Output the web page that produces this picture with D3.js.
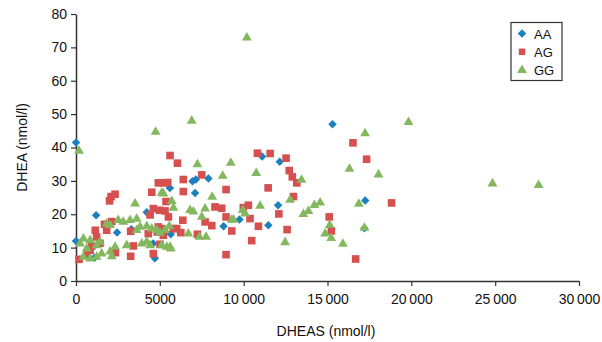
<!DOCTYPE html>
<html>
<head>
<meta charset="utf-8">
<script src="https://cdn.jsdelivr.net/npm/d3@7"></script>
<style>
  body { margin: 0; background: #fff; }
  svg { display: block; font-family: "Liberation Sans", Arial, sans-serif; }
</style>
</head>
<body>
<div id="chart"></div>
<script>
// [DHEAS, DHEA] pairs
const aaPoints = [
  [0, 41.5], [0, 12], [1100, 7], [1200, 19.7], [2450, 14.5], [4220, 20.6], [4700, 6.8],
  [4600, 11.2], [5600, 27.9], [5650, 14], [6950, 29.9], [7150, 30.4], [7100, 26.4],
  [7900, 30.7], [8800, 16.4], [9750, 18.4], [11100, 37.3], [12150, 35.7], [12050, 22.7],
  [11470, 16.7], [15300, 47], [17250, 24.1], [17200, 15.8], [3300, 15.5]
];

const agPoints = [
  [180, 6.5], [840, 9.2], [940, 10.5], [1150, 15.2], [1230, 13.2], [1430, 11.3], [680, 8],
  [2000, 24], [2090, 25.3], [2330, 26], [1830, 15.2], [2130, 17.8], [1700, 17], [2350, 8.5],
  [3260, 14.9], [3260, 7.4], [3420, 10.5], [4520, 26.6], [4420, 19.8], [4610, 21.7],
  [4310, 14.2], [4610, 8.2], [4910, 29.4], [5210, 29.4], [5470, 29.5], [4970, 21.2],
  [5310, 21], [4910, 16.2], [5210, 13.7], [5010, 11], [5510, 19.2], [5370, 23.8],
  [5610, 37.6], [6050, 35.3], [6400, 30.4], [6400, 26.8], [6370, 18.2], [6010, 15.7],
  [7240, 14], [7500, 31.8], [8950, 27.4], [8290, 22.2], [8690, 21.8], [8950, 19.2],
  [8100, 16.6], [9290, 15], [9980, 22], [10280, 22.7], [10380, 18.7], [10480, 12.1],
  [10880, 16.4], [8950, 7.9], [10820, 38.3], [11580, 38.2], [12530, 36.8], [12720, 33.1],
  [12900, 31.2], [13170, 29.4], [12970, 25.3], [11460, 27.9], [12100, 20.1], [12590, 15.4],
  [15100, 19.2], [15230, 15], [16520, 41.4], [17330, 36.5], [18820, 23.4], [16680, 6.6],
  [5110, 15.7], [6250, 14.5], [7700, 17.7], [4850, 14.7], [5800, 15.7]
];

const ggPoints = [
  [180, 39], [4750, 44.7], [6900, 48], [10190, 72.9], [17240, 44.2], [19830, 47.6],
  [24840, 29.2], [27590, 28.7], [16310, 33.6], [18040, 31.9], [16870, 23.1], [17200, 15.9],
  [15920, 11.1], [10980, 22.5], [12770, 24.3], [13560, 20], [13860, 20.9], [14220, 22.7],
  [14560, 23.5], [15130, 16.7], [14860, 14.2], [15220, 12.8], [12470, 11.6], [10750, 32.3],
  [13450, 30.3], [9230, 35.4], [8750, 31.5], [7240, 34.9], [8120, 25.2], [5110, 26.4],
  [5710, 23.9], [5810, 21.9], [6800, 21.2], [7000, 20.8], [7700, 21.7], [7500, 19.2],
  [9290, 18.3], [9950, 21.2], [6700, 14.2], [7360, 13.2], [7760, 13.2], [5610, 10.2],
  [5110, 10.7], [3520, 23.2], [2520, 18.2], [3220, 18.2], [3620, 18.6], [2820, 17.7],
  [2030, 16.7], [1830, 17.2], [4220, 16.4], [3820, 16.2], [4520, 15.7], [4820, 15.2],
  [5210, 26.2], [5570, 16.4], [5010, 14.4], [440, 12.7], [240, 11.2], [640, 9.7],
  [840, 12.2], [1230, 10.7], [1430, 11.7], [440, 7.2], [840, 6.7], [1230, 7.2],
  [1530, 8.2], [2130, 7.4], [2330, 10.2], [2030, 8.8], [3020, 10.7], [3920, 11.2],
  [4220, 11.7], [4420, 10.7], [5410, 10.2], [5650, 9.7], [5310, 15.2], [3620, 15.2],
  [9390, 18.4], [10080, 20.2]
];

const xTicks = [0, 5000, 10000, 15000, 20000, 25000, 30000];
const yTicks = [0, 10, 20, 30, 40, 50, 60, 70, 80];
const seriesNames = ["AA", "AG", "GG"];

const width = 602, height = 342;
const margin = { top: 14, right: 23, bottom: 61, left: 76 };

const svg = d3.select("#chart").append("svg")
  .attr("width", width)
  .attr("height", height);

const x = d3.scaleLinear().domain([0, 30000]).range([margin.left, width - margin.right]);
const y = d3.scaleLinear().domain([0, 80]).range([height - margin.bottom, margin.top]);

const fmtX = d => d >= 10000 ? d3.format("d")(d).replace(/(\d+)(\d{3})$/, "$1\u2009$2") : String(d);

const xAxis = svg.append("g")
  .attr("transform", `translate(0,${y(0)})`)
  .call(d3.axisBottom(x).tickValues(xTicks).tickFormat(fmtX).tickSize(5).tickSizeOuter(0));

const yAxis = svg.append("g")
  .attr("transform", `translate(${x(0)},0)`)
  .call(d3.axisLeft(y).tickValues(yTicks).tickSize(5).tickSizeOuter(0));

[xAxis, yAxis].forEach(g => {
  g.select(".domain").attr("stroke", "#333").attr("stroke-width", 1.5);
  g.selectAll(".tick line").attr("stroke", "#333").attr("stroke-width", 1.2);
  g.selectAll(".tick text").attr("fill", "#111").style("font-size", "14px")
    .style("font-family", "'Liberation Sans', Arial, sans-serif");
});
xAxis.selectAll(".tick text").attr("dy", "1.1em");
yAxis.selectAll(".tick text").attr("x", -9);

svg.append("text")
  .attr("x", 326).attr("y", 336)
  .attr("text-anchor", "middle")
  .style("font-size", "14px").attr("fill", "#111")
  .text("DHEAS (nmol/l)");

svg.append("text")
  .attr("transform", `translate(27,${(y(0) + y(80)) / 2}) rotate(-90)`)
  .attr("text-anchor", "middle")
  .style("font-size", "14px").attr("fill", "#111")
  .text("DHEA (nmol/l)");

const colors = { AA: "#1b80be", AG: "#d6504f", GG: "#84b85f" };
const symbols = { AA: d3.symbolDiamond2, AG: d3.symbolSquare, GG: d3.symbolTriangle };
const sizes = { AA: 46, AG: 58, GG: 42 };

function shape(name) {
  return d3.symbol().type(symbols[name]).size(sizes[name])();
}

const series = [["AA", aaPoints], ["AG", agPoints], ["GG", ggPoints]];

series.forEach(([name, pts]) => {
  svg.append("g")
    .selectAll("path")
    .data(pts)
    .enter().append("path")
    .attr("d", shape(name))
    .attr("transform", d => `translate(${x(d[0])},${y(d[1])})`)
    .attr("fill", colors[name]);
});

// legend
const legend = svg.append("g").attr("transform", "translate(511,22.5)");
legend.append("rect")
  .attr("width", 51).attr("height", 58)
  .attr("fill", "#fff").attr("stroke", "#333").attr("stroke-width", 1.2);

seriesNames.forEach((name, i) => {
  const row = legend.append("g").attr("transform", `translate(11,${11 + i * 18.3})`);
  row.append("path").attr("d", shape(name)).attr("fill", colors[name])
    .attr("transform", name === "AG" ? "scale(0.85)" : null);
  row.append("text").attr("x", 12).attr("y", 5)
    .style("font-size", "13px").attr("fill", "#111").text(name);
});
</script>
</body>
</html>
